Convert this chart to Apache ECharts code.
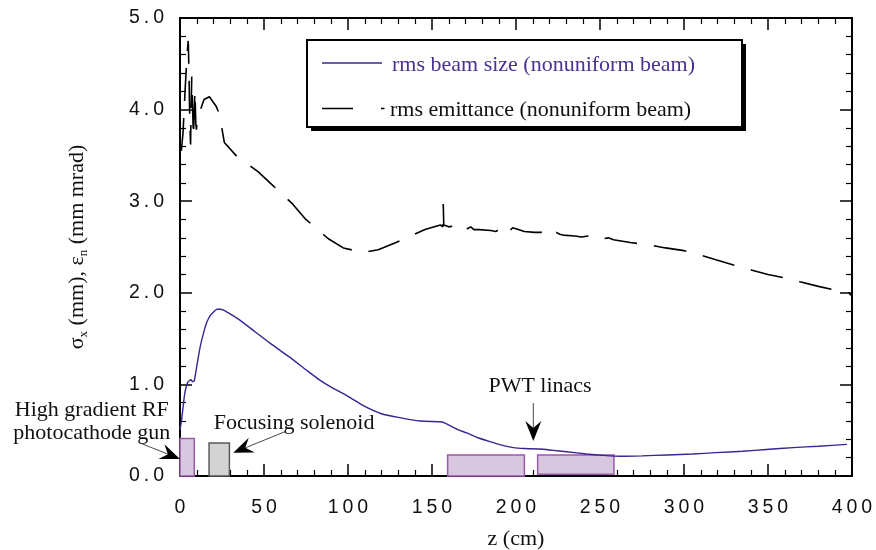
<!DOCTYPE html>
<html><head><meta charset="utf-8">
<style>html,body{margin:0;padding:0;background:#fff}#c{width:876px;height:550px}</style>
<script src="https://cdn.jsdelivr.net/npm/echarts@6/dist/echarts.min.js"></script>
</head><body><div id="c"></div>
<script>
// ---- data ----
const xTickValues = [0, 50, 100, 150, 200, 250, 300, 350, 400];
const yTickValues = [0, 1, 2, 3, 4, 5];

const beamZ = [0,1,2,3,4.5,5.5,6.5,7.5,8.5,10,12,14,16,18,20,22,24,26,28,35,45,53.6,65,75,83,90,100,110,120,130,143,156,158,160.7,165,170.6,177,184.5,191,198.4,205,214,222,230,242,252,262,275,290,305,319,335,349,365,380,397];
const beamSize = [0.5,0.62,0.78,0.92,1.02,1.04,1.05,1.03,1.04,1.2,1.41,1.56,1.68,1.75,1.79,1.82,1.82,1.81,1.79,1.71,1.57,1.45,1.3,1.16,1.05,0.97,0.87,0.76,0.68,0.64,0.6,0.59,0.575,0.55,0.51,0.47,0.42,0.375,0.34,0.31,0.3,0.295,0.28,0.265,0.24,0.225,0.215,0.22,0.23,0.24,0.255,0.27,0.29,0.31,0.325,0.345];

const emitZ = [0.8,1.8,3.0,4.2,4.9,5.3,5.8,6.3,6.6,7.0,7.6,8.0,8.5,8.9,9.4,9.8,10.4,11.3,12.8,14.3,17.5,21.4,23.5,26.4,33.3,46.6,53.6,67,74.4,88.3,97.2,109,118,128.6,145.8,155,156.5,156.7,157,157.5,160,163,165,167,169,171,173,175,178,185,188,190,192,194,196,198,200,205,211,215,218,220,222,224,226,228,235,239,243,246,249,252,255,258,268,280,289,300,310,319,330,340,350,361,369,380,390,398,399.6];
const emittance = [3.55,3.75,4.2,4.6,4.75,4.45,3.9,3.62,4.0,4.36,3.95,3.7,4.0,4.21,3.85,3.78,3.92,3.95,4.03,4.11,4.14,4.04,3.95,3.64,3.5,3.32,3.2,2.97,2.81,2.59,2.49,2.44,2.47,2.55,2.69,2.74,2.72,2.97,2.74,2.73,2.72,2.73,2.71,2.7,2.73,2.7,2.72,2.69,2.69,2.68,2.67,2.69,2.66,2.7,2.67,2.71,2.7,2.67,2.66,2.66,2.64,2.66,2.63,2.66,2.64,2.63,2.62,2.61,2.62,2.6,2.61,2.59,2.6,2.58,2.55,2.52,2.49,2.46,2.41,2.36,2.3,2.25,2.2,2.16,2.12,2.07,2.03,2.0,1.97];

const elementNames  = ['RF gun', 'Focusing solenoid', 'PWT linac 1', 'PWT linac 2'];
const elementStart  = [0, 17.3, 159.3, 212.9];
const elementEnd    = [8.5, 29.4, 205, 258.3];
const elementBottom = [0, 0, 0, 0.02];
const elementTop    = [0.41, 0.36, 0.23, 0.23];
const elementKind   = ['linac', 'solenoid', 'linac', 'linac'];

const seriesNames = ['rms beam size (nonuniform beam)', 'rms emittance (nonuniform beam)'];

// annotations (data coords)
const annotTexts = ['High gradient RF\nphotocathode gun', 'Focusing solenoid', 'PWT linacs'];
const annotAt = [[-52.5, 0.592], [67.9, 0.575], [214.3, 0.975]];
const arrowFrom = [[-23.8, 0.36], [62.5, 0.484], [210.3, 0.797]];
const arrowTo = [[0, 0.186], [31.7, 0.254], [210.3, 0.382]];

// ---- styles ----
const PURPLE = '#3b2392';
const SERIF = '"Liberation Serif", "Times New Roman", serif';
const SANS = '"Liberation Sans", Arial, sans-serif';
const kindStyle = {
  linac: { fill: '#d7c8df', stroke: '#9b5aa9' },
  solenoid: { fill: '#d3d3d3', stroke: '#5a5a5a' }
};
const spaced = s => String(s).split('').join('\u2009');

const chart = echarts.init(document.getElementById('c'), null, { renderer: 'canvas' });

const axisCommon = {
  type: 'value',
  axisLine: { show: true, onZero: false, lineStyle: { color: '#000', width: 2 } },
  axisTick: { show: true, inside: true, length: 12, lineStyle: { color: '#000', width: 1.5 } },
  minorTick: { show: true, splitNumber: 5, length: 6, lineStyle: { color: '#000', width: 1.2 } },
  splitLine: { show: false },
  minorSplitLine: { show: false }
};

const elementData = elementNames.map((n, i) => ({
  name: n,
  value: [elementStart[i], elementEnd[i], elementBottom[i], elementTop[i], i]
}));

chart.setOption({
  animation: false,
  backgroundColor: '#fff',
  grid: { left: 180, right: 24, top: 18, bottom: 74, containLabel: false, outerBoundsMode: 'none' },
  xAxis: [
    Object.assign({}, axisCommon, {
      position: 'bottom', min: xTickValues[0], max: xTickValues[xTickValues.length - 1],
      interval: xTickValues[1] - xTickValues[0],
      name: 'z (cm)', nameLocation: 'middle', nameGap: 52,
      nameTextStyle: { fontFamily: SERIF, fontSize: 22, color: '#111' },
      axisLabel: { margin: 22, fontFamily: SANS, fontSize: 19.5, color: '#111', formatter: v => spaced(v) }
    }),
    Object.assign({}, axisCommon, {
      position: 'top', min: xTickValues[0], max: xTickValues[xTickValues.length - 1],
      interval: xTickValues[1] - xTickValues[0], axisLabel: { show: false }
    })
  ],
  yAxis: [
    Object.assign({}, axisCommon, {
      position: 'left', min: yTickValues[0], max: yTickValues[yTickValues.length - 1],
      interval: yTickValues[1] - yTickValues[0],
      name: '{t|σ}{s|x}{t| (mm), ε}{s|n}{t| (mm mrad)}',
      nameLocation: 'middle', nameGap: 90,
      nameTextStyle: {
        rich: {
          t: { fontFamily: SERIF, fontSize: 22, color: '#111', lineHeight: 26 },
          s: { fontFamily: SERIF, fontSize: 13, color: '#111', verticalAlign: 'bottom', lineHeight: 26 }
        }
      },
      axisLabel: { margin: 16, fontFamily: SANS, fontSize: 19.5, color: '#111', formatter: v => spaced(v.toFixed(1)) }
    }),
    Object.assign({}, axisCommon, {
      position: 'right', min: yTickValues[0], max: yTickValues[yTickValues.length - 1],
      interval: yTickValues[1] - yTickValues[0], axisLabel: { show: false }
    })
  ],
  series: [
    {
      type: 'custom', name: 'elements', xAxisIndex: 0, yAxisIndex: 0, z: 1, clip: false,
      encode: { x: [0, 1], y: [2, 3] },
      data: elementData,
      renderItem: function (params, api) {
        const a = api.coord([api.value(0), api.value(3)]);
        const b = api.coord([api.value(1), api.value(2)]);
        const st = kindStyle[elementKind[api.value(4)]];
        return {
          type: 'rect',
          shape: { x: a[0], y: a[1], width: b[0] - a[0], height: b[1] - a[1] },
          style: { fill: st.fill, stroke: st.stroke, lineWidth: 1.5 }
        };
      }
    },
    {
      type: 'line', name: seriesNames[0], z: 3, showSymbol: false, symbol: 'none', smooth: 0.2,
      data: beamZ.map((z, i) => [z, beamSize[i]]),
      lineStyle: { color: PURPLE, width: 1.4 }, itemStyle: { color: PURPLE }
    },
    {
      type: 'line', name: seriesNames[1], z: 4, showSymbol: false, symbol: 'none',
      data: emitZ.map((z, i) => [z, emittance[i]]),
      lineStyle: { color: '#000', width: 1.6, type: [33, 17] }, itemStyle: { color: '#000' }
    }
  ]
});

// ---- annotations & legend (graphic) ----
function arrow(p0, p1) {
  const dx = p1[0] - p0[0], dy = p1[1] - p0[1];
  const L = Math.hypot(dx, dy), ux = dx / L, uy = dy / L, nx = -uy, ny = ux;
  const hl = 20, hw = 8, notch = 13;
  const back = [p1[0] - ux * hl, p1[1] - uy * hl];
  const mid = [p1[0] - ux * notch, p1[1] - uy * notch];
  return [
    { type: 'line', shape: { x1: p0[0], y1: p0[1], x2: mid[0], y2: mid[1] }, style: { stroke: '#333', lineWidth: 0.9 }, z: 50 },
    { type: 'polygon', shape: { points: [p1, [back[0] + nx * hw, back[1] + ny * hw], mid, [back[0] - nx * hw, back[1] - ny * hw]] }, style: { fill: '#000' }, z: 50 }
  ];
}
const px = c => chart.convertToPixel({ xAxisIndex: 0, yAxisIndex: 0 }, c);
let g = [];
annotTexts.forEach((t, i) => {
  const p = px(annotAt[i]);
  g.push({ type: 'text', x: p[0], y: p[1], z: 50,
    style: { text: t, fill: '#111', font: '22px ' + SERIF, align: 'center', verticalAlign: 'middle', lineHeight: 23 } });
  g = g.concat(arrow(px(arrowFrom[i]), px(arrowTo[i])));
});
// legend box
g.push({ type: 'rect', z: 60, shape: { x: 311, y: 44, width: 435, height: 87 }, style: { fill: '#000' } });
g.push({ type: 'rect', z: 61, shape: { x: 307, y: 40, width: 435, height: 87 }, style: { fill: '#fff', stroke: '#000', lineWidth: 2 } });
g.push({ type: 'line', z: 62, shape: { x1: 322, y1: 63, x2: 382, y2: 63 }, style: { stroke: PURPLE, lineWidth: 1.4 } });
g.push({ type: 'text', z: 62, x: 392, y: 65, style: { text: seriesNames[0], fill: '#4a3192', font: '22px ' + SERIF, verticalAlign: 'middle' } });
g.push({ type: 'line', z: 62, shape: { x1: 322, y1: 108.5, x2: 353, y2: 108.5 }, style: { stroke: '#000', lineWidth: 1.5 } });
g.push({ type: 'line', z: 62, shape: { x1: 381, y1: 108.5, x2: 384.5, y2: 108.5 }, style: { stroke: '#000', lineWidth: 1.5 } });
g.push({ type: 'text', z: 62, x: 390, y: 110, style: { text: seriesNames[1], fill: '#111', font: '22px ' + SERIF, verticalAlign: 'middle' } });
chart.setOption({ graphic: g });
</script>
</body></html>
